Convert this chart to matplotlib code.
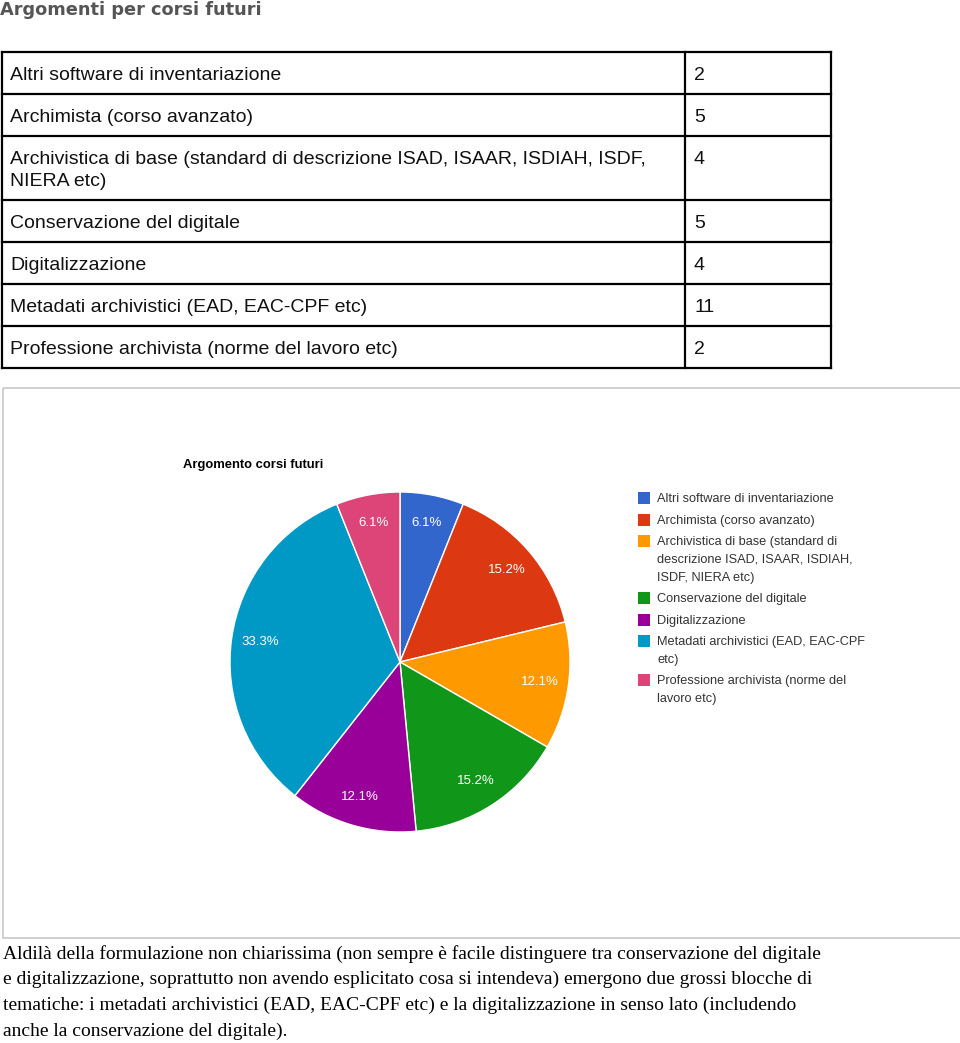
import matplotlib

matplotlib.use('Agg')
import matplotlib.pyplot as plt
from matplotlib.patches import Rectangle

W, H = 960, 1043

# dati della tabella / grafico
categorie = [
    'Altri software di inventariazione',
    'Archimista (corso avanzato)',
    'Archivistica di base (standard di descrizione ISAD, ISAAR, ISDIAH, ISDF,\nNIERA etc)',
    'Conservazione del digitale',
    'Digitalizzazione',
    'Metadati archivistici (EAD, EAC-CPF etc)',
    'Professione archivista (norme del lavoro etc)',
]
valori = [2, 5, 4, 5, 4, 11, 2]
legenda = [
    'Altri software di inventariazione',
    'Archimista (corso avanzato)',
    'Archivistica di base (standard di\ndescrizione ISAD, ISAAR, ISDIAH,\nISDF, NIERA etc)',
    'Conservazione del digitale',
    'Digitalizzazione',
    'Metadati archivistici (EAD, EAC-CPF\netc)',
    'Professione archivista (norme del\nlavoro etc)',
]
colori = ['#3366cc', '#dc3912', '#ff9900', '#109618', '#990099', '#0099c6', '#dd4477']
paragrafo = [
    'Aldilà della formulazione non chiarissima (non sempre è facile distinguere tra conservazione del digitale',
    'e digitalizzazione, soprattutto non avendo esplicitato cosa si intendeva) emergono due grossi blocche di',
    'tematiche: i metadati archivistici (EAD, EAC-CPF etc) e la digitalizzazione in senso lato (includendo',
    'anche la conservazione del digitale).',
]

fig = plt.figure(figsize=(W / 100, H / 100), dpi=100)
ax = fig.add_axes([0, 0, 1, 1])
ax.set_xlim(0, W)
ax.set_ylim(H, 0)
ax.axis('off')

# titolo pagina
ax.text(0, 10, 'Argomenti per corsi futuri', fontsize=12.8, fontweight='bold',
        color='#555555', family='DejaVu Sans', va='center', ha='left')

# tabella
righe_y = [52, 94, 136, 200, 242, 284, 326, 368]
x0, xc, x1 = 2, 685, 831
for y in righe_y:
    ax.plot([x0, x1], [y, y], color='black', lw=1.6, solid_capstyle='projecting')
for x in (x0, xc, x1):
    ax.plot([x, x], [righe_y[0], righe_y[-1]], color='black', lw=1.6)
for i, (cat, v) in enumerate(zip(categorie, valori)):
    ytop = righe_y[i] + 23
    for k, riga in enumerate(cat.split('\n')):
        ax.text(10, ytop + k * 22, riga, fontsize=14, family='Liberation Sans',
                va='center', ha='left', color='#111111')
    ax.text(694, ytop, str(v), fontsize=14, family='Liberation Sans', va='center',
            ha='left', color='#111111')

# riquadro del grafico
ax.add_patch(Rectangle((3, 388), 990, 550, fill=False, edgecolor='#c8c8c8', lw=1.2))
ax.text(183, 465, 'Argomento corsi futuri', fontsize=9.4, fontweight='bold',
        family='Liberation Sans', va='center', ha='left', color='black')

# legenda
leg_y = [498, 520, 541, 598, 620, 641, 680]
for lab, c, y in zip(legenda, colori, leg_y):
    ax.add_patch(Rectangle((638, y - 6), 12, 12, facecolor=c, edgecolor='none'))
    for k, riga in enumerate(lab.split('\n')):
        ax.text(657, y + 1 + k * 18, riga, fontsize=9.2, family='Liberation Sans',
                va='center', ha='left', color='#333333')

# torta
cx, cy, r = 400, 662, 170
pax = fig.add_axes([(cx - r) / W, (H - cy - r) / H, 2 * r / W, 2 * r / H])
pax.pie(valori, colors=colori, startangle=90, counterclock=False,
        autopct='%.1f%%', pctdistance=0.83,
        wedgeprops=dict(edgecolor='white', linewidth=1),
        textprops=dict(color='white', fontsize=9.5, family='Liberation Sans'))
pax.set_xlim(-1, 1)
pax.set_ylim(-1, 1)
pax.set_aspect('auto')

# testo finale
for i, riga in enumerate(paragrafo):
    ax.text(3, 954 + i * 25.7, riga, fontsize=14, family='Liberation Serif',
            va='center', ha='left', color='black')

plt.savefig('out.png', dpi=100)
